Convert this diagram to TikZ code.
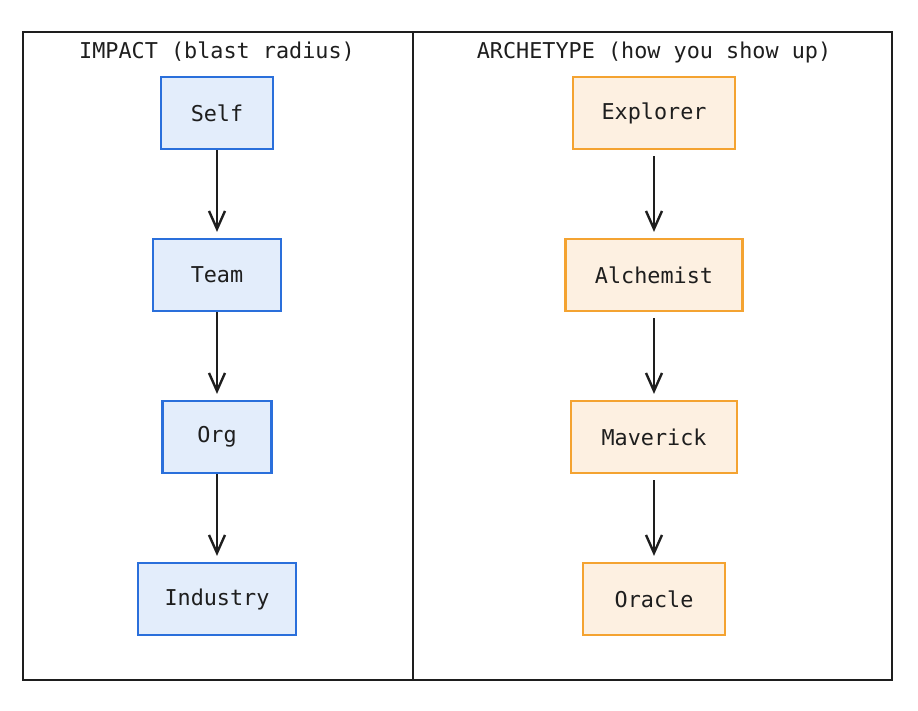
\documentclass[tikz,border=0pt]{standalone}
\usepackage{fontspec}
\setmonofont{DejaVu Sans Mono}
\usetikzlibrary{arrows.meta}
\definecolor{bluebd}{HTML}{2A6FDB}
\definecolor{bluefill}{HTML}{E3EDFB}
\definecolor{orgbd}{HTML}{F4A331}
\definecolor{orgfill}{HTML}{FDF0E1}
\definecolor{ink}{HTML}{1E1E1E}
\tikzset{
  txt/.style={font=\ttfamily\fontsize{21.8}{26}\selectfont, text=ink},
  bluebox/.style={txt, draw=bluebd, fill=bluefill, line width=2.2pt, rectangle, anchor=center, minimum height=72pt},
  orgbox/.style={txt, draw=orgbd, fill=orgfill, line width=2.2pt, rectangle, anchor=center, minimum height=72pt},
  flow/.style={draw=ink, line width=2.4pt, -{Straight Barb[length=18pt,width=16pt,line width=2.4pt]}},
  frame/.style={draw=ink, line width=2.4pt}
}
\begin{document}
\begin{tikzpicture}[x=1pt,y=-1pt]
\useasboundingbox (0,0) rectangle (918,710);
\fill[white] (0,0) rectangle (918,710);
% frames
\draw[frame] (23,32) rectangle (892,680);
\draw[frame] (413,32) -- (413,680);
% titles
\node[txt] (t1) at (217,52) {IMPACT (blast radius)};
\node[txt] (t2) at (654,52) {ARCHETYPE (how you show up)};
% left boxes
\node[bluebox, minimum width=112pt] (self) at (217,113) {Self};
\node[bluebox, minimum width=128pt] (team) at (217,275) {Team};
\node[bluebox, minimum width=109pt] (org) at (217,437) {Org};
\node[bluebox, minimum width=158pt] (ind) at (217,599) {Industry};
% right boxes
\node[orgbox, minimum width=162pt] (exp) at (654,113) {Explorer};
\node[orgbox, minimum width=177pt] (alc) at (654,275) {Alchemist};
\node[orgbox, minimum width=166pt] (mav) at (654,437) {Maverick};
\node[orgbox, minimum width=142pt] (ora) at (654,599) {Oracle};
% arrows
\draw[flow, shorten >=6pt] (self) -- (team);
\draw[flow, shorten >=6pt] (team) -- (org);
\draw[flow, shorten >=6pt] (org) -- (ind);
\draw[flow, shorten <=6pt, shorten >=6pt] (exp) -- (alc);
\draw[flow, shorten <=6pt, shorten >=6pt] (alc) -- (mav);
\draw[flow, shorten <=6pt, shorten >=6pt] (mav) -- (ora);
\end{tikzpicture}
\end{document}
